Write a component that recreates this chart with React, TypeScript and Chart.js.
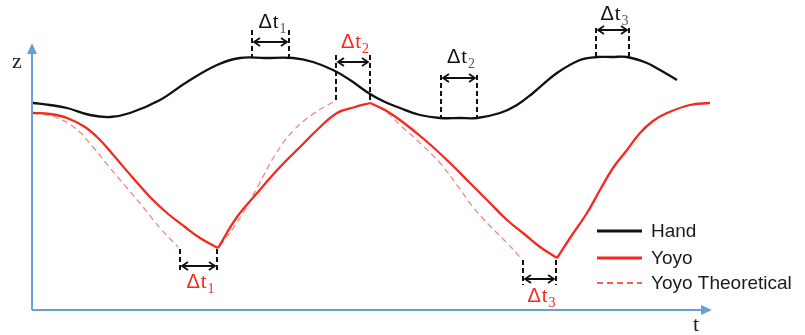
import React, { useEffect, useRef } from "react";
import { Chart, registerables } from "chart.js";
Chart.register(...registerables);

// ---- data (t = time units, z = height units) ----
const handT = [1, 18, 35, 58, 78, 98, 128, 155, 185, 208, 233, 261, 281, 301, 318, 338, 353, 368, 388, 408, 428, 445, 468, 485, 501, 525, 548, 565, 580, 595, 615, 628, 645];
const handZ = [207, 205, 202, 195, 193, 197, 210, 228, 245, 252, 252, 252, 248, 240, 230, 216, 208, 202, 195, 192, 192, 192, 197, 205, 217, 237, 250, 253, 253, 253, 247, 240, 230];

const yoyoT = [1, 18, 35, 53, 68, 83, 101, 118, 135, 153, 168, 186, 205, 226, 248, 268, 285, 305, 323, 338, 353, 368, 393, 418, 438, 458, 475, 491, 508, 525, 540, 555, 568, 581, 595, 608, 621, 635, 658, 678];
const yoyoZ = [197, 196, 192, 183, 170, 153, 132, 113, 97, 83, 72, 62, 93, 118, 143, 163, 180, 197, 203, 207, 200, 190, 170, 147, 127, 107, 90, 77, 63, 52, 75, 97, 120, 142, 160, 177, 189, 197, 205, 207];
const yoyoCusps = [11, 19, 29];

const theoT = [1, 23, 43, 61, 78, 95, 111, 128, 146, 146, 188, 208, 226, 243, 261, 281, 303, 303, 338, 353, 368, 388, 408, 425, 441, 458, 475, 488];
const theoZ = [197, 193, 182, 163, 142, 122, 103, 82, 63, null, 64, 92, 124, 155, 179, 196, 209, null, 207, 199, 185, 167, 147, 125, 103, 84, 67, 53];

const seriesLabels = ["Hand", "Yoyo", "Yoyo Theoretical"];
const seriesColors = ["#111111", "#f5281e", "#f08a86"];

// Δt annotations
const deltaSub = ["1", "2", "2", "3", "1", "3"];
const deltaRed = [false, true, false, false, true, true];
const deltaStart = [220, 304, 409, 564, 148, 491];
const deltaEnd = [257, 338, 445, 597, 185, 524];
const deltaTop = [280, 255, 235, 282, 61, 50];
const deltaLowStart = [253, 210, 192, 253, 38, 25];
const deltaLowEnd = [253, 207, 192, 253, 38, 25];
const deltaArrowZ = [268, 248, 232, 280, 44, 31];
const deltaLabelZ = [282, 262, 247, 290, 22, 8];

const T_MAX = 678;
const Z_MAX = 265;

function buildPoints(ts: number[], zs: (number | null)[], cusps: number[] = []) {
  const out: { x: number; y: number | null }[] = [];
  ts.forEach((t, i) => {
    out.push({ x: t, y: zs[i] });
    if (cusps.includes(i)) {
      out.push({ x: t, y: null });
      out.push({ x: t, y: zs[i] });
    }
  });
  return out;
}

const AXIS_COLOR = "#6a9fd6";

const schematicPlugin = {
  id: "schematic",
  beforeDatasetsDraw(chart: any) {
    const { ctx, chartArea } = chart;
    const { left, right, top, bottom } = chartArea;
    ctx.save();
    ctx.strokeStyle = AXIS_COLOR;
    ctx.fillStyle = AXIS_COLOR;
    ctx.lineWidth = 2;
    ctx.beginPath();
    ctx.moveTo(left, bottom);
    ctx.lineTo(left, top + 6);
    ctx.moveTo(left, bottom);
    ctx.lineTo(right - 6, bottom);
    ctx.stroke();
    ctx.beginPath();
    ctx.moveTo(left, top - 2);
    ctx.lineTo(left - 5, top + 9);
    ctx.lineTo(left + 5, top + 9);
    ctx.closePath();
    ctx.fill();
    ctx.beginPath();
    ctx.moveTo(right + 2, bottom);
    ctx.lineTo(right - 9, bottom - 5);
    ctx.lineTo(right - 9, bottom + 5);
    ctx.closePath();
    ctx.fill();
    ctx.fillStyle = "#222";
    ctx.font = '22px "Liberation Serif", serif';
    ctx.textBaseline = "alphabetic";
    ctx.textAlign = "left";
    ctx.fillText("z", left - 20, top + 23);
    ctx.fillText("t", right - 17, bottom + 21);
    ctx.restore();
  },
  afterDraw(chart: any) {
    const { ctx, scales } = chart;
    const xs = scales.x;
    const ys = scales.y;
    ctx.save();
    for (let i = 0; i < deltaSub.length; i++) {
      const x1 = xs.getPixelForValue(deltaStart[i]);
      const x2 = xs.getPixelForValue(deltaEnd[i]);
      const yt = ys.getPixelForValue(deltaTop[i]);
      const yl1 = ys.getPixelForValue(deltaLowStart[i]);
      const yl2 = ys.getPixelForValue(deltaLowEnd[i]);
      const ya = ys.getPixelForValue(deltaArrowZ[i]);
      const yb = ys.getPixelForValue(deltaLabelZ[i]);
      ctx.strokeStyle = "#111";
      ctx.lineWidth = 2;
      ctx.setLineDash([5, 3]);
      ctx.beginPath();
      ctx.moveTo(x1, yt);
      ctx.lineTo(x1, yl1);
      ctx.moveTo(x2, yt);
      ctx.lineTo(x2, yl2);
      ctx.stroke();
      ctx.setLineDash([]);
      ctx.lineWidth = 1.8;
      ctx.beginPath();
      ctx.moveTo(x1 + 2, ya);
      ctx.lineTo(x2 - 2, ya);
      ctx.moveTo(x1 + 8, ya - 4);
      ctx.lineTo(x1 + 2, ya);
      ctx.lineTo(x1 + 8, ya + 4);
      ctx.moveTo(x2 - 8, ya - 4);
      ctx.lineTo(x2 - 2, ya);
      ctx.lineTo(x2 - 8, ya + 4);
      ctx.stroke();
      const col = deltaRed[i] ? "#f5281e" : "#111";
      ctx.fillStyle = col;
      ctx.textAlign = "left";
      ctx.textBaseline = "alphabetic";
      ctx.font = '20px "Liberation Sans", sans-serif';
      const wD = ctx.measureText("Δ").width;
      ctx.font = '21px "Liberation Serif", serif';
      const wT = ctx.measureText("t").width;
      ctx.font = '14px "Liberation Serif", serif';
      const wS = ctx.measureText(deltaSub[i]).width;
      const total = wD + wT + wS + 2;
      const mid = (x1 + x2) / 2;
      let x0 = mid - total / 2 + 2;
      ctx.font = '20px "Liberation Sans", sans-serif';
      ctx.fillText("Δ", x0, yb);
      x0 += wD + 1;
      ctx.font = '21px "Liberation Serif", serif';
      ctx.fillText("t", x0, yb);
      x0 += wT + 1;
      ctx.font = '14px "Liberation Serif", serif';
      ctx.fillStyle = deltaRed[i] ? "#f5281e" : "#555";
      ctx.fillText(deltaSub[i], x0, yb + 5);
    }
    const lx = 597;
    const lineLen = 45;
    const rows = [231, 258, 283];
    chart.data.datasets.forEach((ds: any, i: number) => {
      const y = rows[i];
      ctx.strokeStyle = i === 2 ? "#f5281e" : ds.borderColor;
      ctx.lineWidth = i === 2 ? 1.5 : 3;
      ctx.setLineDash(i === 2 ? [6, 4] : []);
      ctx.beginPath();
      ctx.moveTo(lx, y);
      ctx.lineTo(lx + lineLen, y);
      ctx.stroke();
      ctx.setLineDash([]);
      ctx.fillStyle = "#1a1a1a";
      ctx.font = '19px "Liberation Sans", Arial, sans-serif';
      ctx.textBaseline = "middle";
      ctx.fillText(ds.label, lx + lineLen + 9, y + 1);
    });
    ctx.restore();
  },
};

export default function App() {
  const ref = useRef<HTMLCanvasElement | null>(null);
  useEffect(() => {
    if (!ref.current) return;
    const chart = new Chart(ref.current, {
      type: "line",
      data: {
        datasets: [
          {
            label: seriesLabels[0],
            data: buildPoints(handT, handZ),
            borderColor: seriesColors[0],
            borderWidth: 2.3,
            pointRadius: 0,
            tension: 0.4,
            fill: false,
          },
          {
            label: seriesLabels[1],
            data: buildPoints(yoyoT, yoyoZ, yoyoCusps),
            borderColor: seriesColors[1],
            borderWidth: 2.3,
            pointRadius: 0,
            tension: 0.4,
            fill: false,
          },
          {
            label: seriesLabels[2],
            data: buildPoints(theoT, theoZ),
            borderColor: seriesColors[2],
            borderWidth: 1.3,
            borderDash: [6, 4],
            pointRadius: 0,
            tension: 0.4,
            fill: false,
          },
        ] as any,
      },
      options: {
        animation: false,
        responsive: false,
        layout: { padding: { left: 32, right: 95, top: 45, bottom: 25 } },
        scales: {
          x: { type: "linear", min: 0, max: T_MAX, display: false },
          y: { type: "linear", min: 0, max: Z_MAX, display: false },
        },
        plugins: { legend: { display: false }, tooltip: { enabled: false } },
        events: [],
      },
      plugins: [schematicPlugin],
    });
    return () => chart.destroy();
  }, []);
  return (
    <div style={{ position: "fixed", left: 0, top: 0, width: 805, height: 335, background: "#fff" }}>
      <canvas ref={ref} width={805} height={335} style={{ display: "block" }} />
    </div>
  );
}
